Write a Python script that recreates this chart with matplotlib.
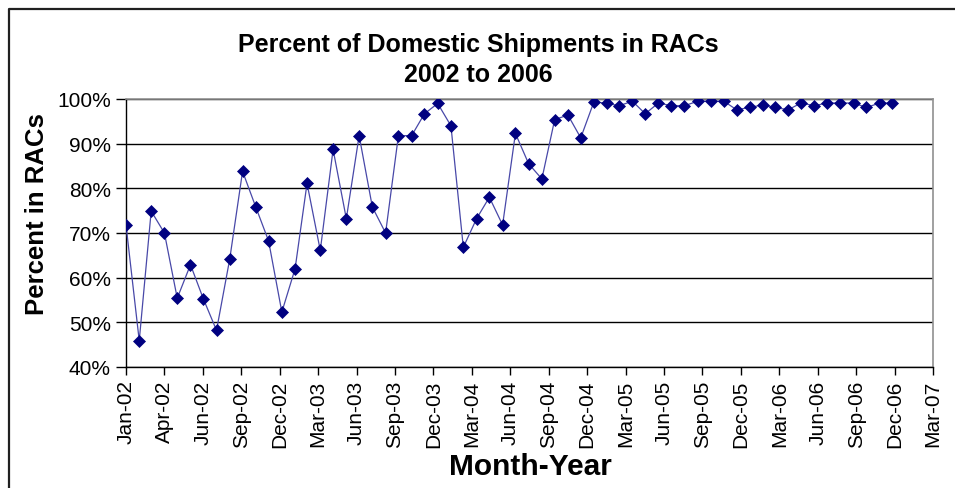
import datetime as dt

import matplotlib

matplotlib.use("Agg")
import matplotlib.dates as mdates  # noqa: E402
import matplotlib.pyplot as plt  # noqa: E402
from matplotlib.lines import Line2D  # noqa: E402
from matplotlib.ticker import FixedLocator, PercentFormatter  # noqa: E402

plt.rcParams["font.family"] = ["Liberation Sans", "DejaVu Sans"]

# Monthly share of domestic shipments moved in RACs, Jan 2002 - Dec 2006
MONTHS = [dt.date(2002 + i // 12, i % 12 + 1, 1) for i in range(60)]
PCT_2002 = [71.8, 45.9, 74.9, 70.0, 55.4, 62.9, 55.3, 48.2, 64.2, 83.8, 75.8, 68.2]
PCT_2003 = [52.3, 62.0, 81.1, 66.1, 88.7, 73.2, 91.8, 75.8, 70.0, 91.8, 91.8, 96.7]
PCT_2004 = [99.0, 94.0, 66.8, 73.2, 78.0, 71.8, 92.3, 85.5, 82.1, 95.4, 96.4, 91.3]
PCT_2005 = [99.4, 99.0, 98.5, 99.5, 96.7, 99.1, 98.5, 98.5, 99.5, 99.5, 99.5, 97.6]
PCT_2006 = [98.1, 98.7, 98.1, 97.6, 99.1, 98.5, 99.1, 99.1, 99.1, 98.1, 99.1, 99.1]
PERCENTS = PCT_2002 + PCT_2003 + PCT_2004 + PCT_2005 + PCT_2006

AXIS_START = dt.date(2002, 1, 1)
TICK_STEP_DAYS = 90
TICK_COUNT = 22

fig = plt.figure(figsize=(9.55, 4.89), dpi=100)
ax = fig.add_axes([126 / 955, 1 - 368 / 489, (933 - 126) / 955, (368 - 100) / 489])

ax.plot(MONTHS, PERCENTS, color="#4848a8", linewidth=0.9, marker="D",
        markersize=6.6, markerfacecolor="#000080", markeredgecolor="#000080",
        markeredgewidth=0.5, zorder=3)

ticks = [AXIS_START + dt.timedelta(days=TICK_STEP_DAYS * i) for i in range(TICK_COUNT)]
ax.set_xlim(mdates.date2num(ticks[0]), mdates.date2num(ticks[-1]))
ax.xaxis.set_major_locator(FixedLocator(mdates.date2num(ticks)))
ax.xaxis.set_major_formatter(mdates.DateFormatter("%b-%y"))
ax.tick_params(axis="x", rotation=90, labelsize=15, length=6, width=1, pad=3)

ax.set_ylim(40, 100)
ax.set_yticks(range(40, 101, 10))
ax.yaxis.set_major_formatter(PercentFormatter(decimals=0))
ax.tick_params(axis="y", labelsize=15, length=7, width=1, pad=4)

ax.grid(axis="y", color="black", linewidth=1)
ax.set_axisbelow(True)
for side in ("left", "bottom"):
    ax.spines[side].set_color("black")
    ax.spines[side].set_linewidth(1)
for side in ("right", "top"):
    ax.spines[side].set_color("#909090")
    ax.spines[side].set_linewidth(1.2)

fig.text(478 / 955, 1 - 45 / 489, "Percent of Domestic Shipments in RACs",
         ha="center", va="center", fontsize=18, fontweight="bold")
fig.text(478 / 955, 1 - 75 / 489, "2002 to 2006",
         ha="center", va="center", fontsize=18, fontweight="bold")
fig.text(530 / 955, 1 - 467 / 489, "Month-Year",
         ha="center", va="center", fontsize=21.5, fontweight="bold")
fig.text(37 / 955, 1 - 214 / 489, "Percent in RACs", rotation=90,
         ha="center", va="center", fontsize=18.5, fontweight="bold")

# chart-area border along the left and top edges
fig.add_artist(Line2D([9 / 955, 9 / 955, 1], [0, 1 - 10 / 489, 1 - 10 / 489],
                      transform=fig.transFigure, color="#202020", linewidth=1.6))

fig.savefig("out.png", dpi=100)
plt.close(fig)
